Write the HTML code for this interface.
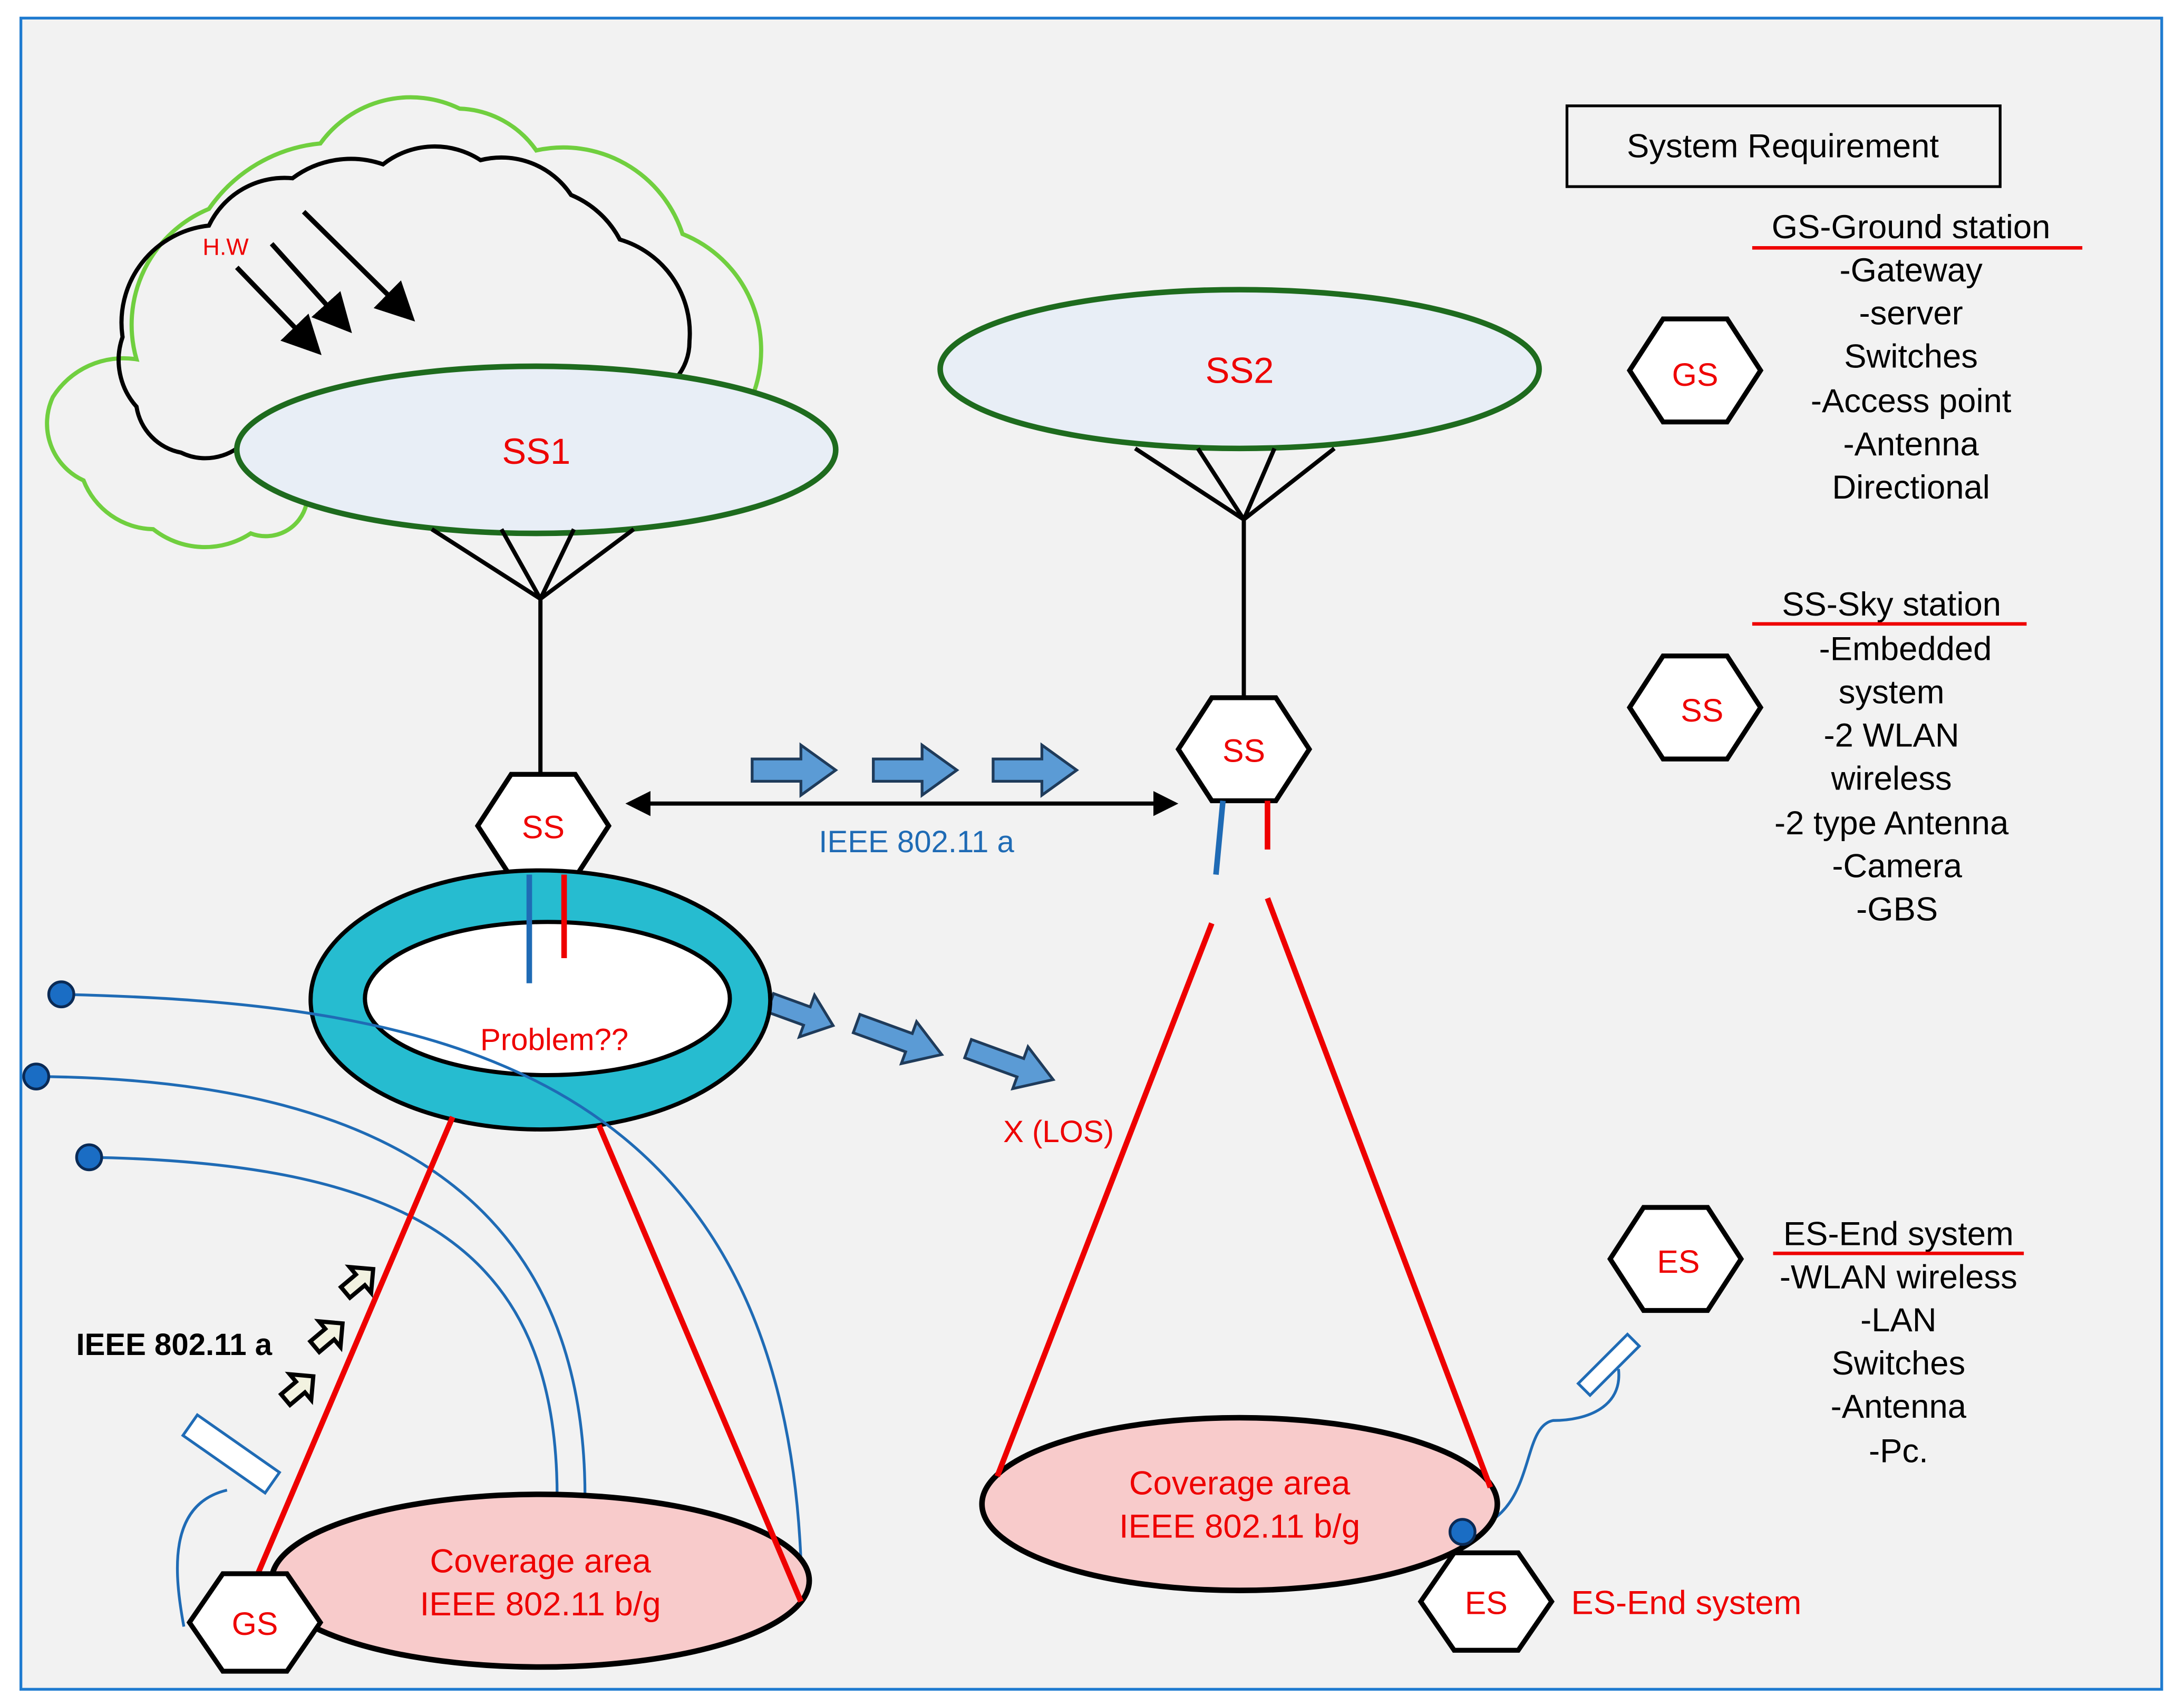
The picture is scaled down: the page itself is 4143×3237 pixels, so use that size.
<!DOCTYPE html>
<html><head><style>html,body{margin:0;padding:0;background:#fff}svg{display:block}</style></head>
<body>
<svg width="4143" height="3237" viewBox="0 0 1568 1225" preserveAspectRatio="none" xmlns="http://www.w3.org/2000/svg" font-family="Liberation Sans, sans-serif">
<rect x="0" y="0" width="1568" height="1225" fill="#fff"/>
<rect x="15" y="13" width="1537" height="1200" fill="#f2f2f2" stroke="#1f7bd0" stroke-width="2"/>

<!-- green cloud -->
<path d="M60,345 A45,45 0 0 1 38,285 A60,60 0 0 1 98,258 A90,90 0 0 1 150,150 A110,110 0 0 1 230,103 A80,80 0 0 1 330,78 A70,70 0 0 1 385,108 A90,90 0 0 1 490,168 A90,90 0 0 1 540,285 L500,330 L220,362 A30,30 0 0 1 180,383 A60,60 0 0 1 110,380 A55,55 0 0 1 60,345 Z" fill="none" stroke="#70cf3f" stroke-width="3"/>
<!-- black cloud -->
<path d="M130,325 A40,40 0 0 1 98,292 A50,50 0 0 1 88,242 A70,70 0 0 1 150,162 A60,60 0 0 1 210,128 A70,70 0 0 1 275,118 A60,60 0 0 1 345,115 A60,60 0 0 1 410,140 A70,70 0 0 1 445,172 A70,70 0 0 1 495,245 A40,40 0 0 1 485,272 L175,318 A40,40 0 0 1 130,325 Z" fill="none" stroke="#000" stroke-width="3"/>
<text x="162" y="183" font-size="17" fill="#e00" text-anchor="middle">H.W</text>
<defs>
<marker id="ah" markerWidth="8" markerHeight="8" refX="6" refY="4" orient="auto" markerUnits="strokeWidth"><path d="M0,0 L8,4 L0,8 Z" fill="#000"/></marker>
<marker id="ah2" markerWidth="6" markerHeight="6" refX="5" refY="3" orient="auto-start-reverse" markerUnits="strokeWidth"><path d="M0,0 L6,3 L0,6 Z" fill="#000"/></marker>
</defs>
<line x1="170" y1="192" x2="226" y2="250" stroke="#000" stroke-width="3.5" marker-end="url(#ah)"/>
<line x1="195" y1="175" x2="248" y2="234" stroke="#000" stroke-width="3.5" marker-end="url(#ah)"/>
<line x1="218" y1="152" x2="293" y2="226" stroke="#000" stroke-width="3.5" marker-end="url(#ah)"/>

<!-- SS1 -->
<ellipse cx="385" cy="323" rx="215" ry="60" fill="#e8eef6" stroke="#1e6b1e" stroke-width="4"/>
<text x="385" y="333" font-size="26" fill="#e00" text-anchor="middle">SS1</text>
<g stroke="#000" stroke-width="3" fill="none">
<path d="M310,380 L388,430 M360,380 L388,430 M412,380 L388,430 M455,380 L388,430 M388,430 L388,557"/>
</g>
<!-- SS2 -->
<ellipse cx="890" cy="265" rx="215" ry="57" fill="#e8eef6" stroke="#1e6b1e" stroke-width="4"/>
<text x="890" y="275" font-size="26" fill="#e00" text-anchor="middle">SS2</text>
<g stroke="#000" stroke-width="3" fill="none">
<path d="M815,322 L893,373 M860,322 L893,373 M915,322 L893,373 M958,322 L893,373 M893,373 L893,503"/>
</g>

<!-- hexagons -->
<g fill="#fff" stroke="#000" stroke-width="3.5">
<polygon points="343,593 367,556 413,556 437,593 413,630 367,630"/>
<polygon points="846,538 870,501 916,501 940,538 916,575 870,575"/>
<polygon points="1170,266 1194,229 1240,229 1264,266 1240,303 1194,303"/>
<polygon points="1170,508 1194,471 1240,471 1264,508 1240,545 1194,545"/>
<polygon points="1156,904 1180,867 1226,867 1250,904 1226,941 1180,941"/>
</g>
<g font-size="23" fill="#e00" text-anchor="middle">
<text x="390" y="602">SS</text>
<text x="893" y="547">SS</text>
<text x="1217" y="277">GS</text>
<text x="1222" y="518">SS</text>
<text x="1205" y="914">ES</text>
</g>

<!-- double arrow -->
<line x1="452" y1="577" x2="843" y2="577" stroke="#000" stroke-width="3" marker-start="url(#ah2)" marker-end="url(#ah2)"/>
<text x="658" y="612" font-size="22" fill="#1f6bb5" text-anchor="middle">IEEE 802.11 a</text>
<g fill="#5b9bd5" stroke="#1f3b5a" stroke-width="2">
<polygon transform="translate(540,553)" points="0,-8 35,-8 35,-18 60,0 35,18 35,8 0,8"/>
<polygon transform="translate(627,553)" points="0,-8 35,-8 35,-18 60,0 35,18 35,8 0,8"/>
<polygon transform="translate(713,553)" points="0,-8 35,-8 35,-18 60,0 35,18 35,8 0,8"/>
<polygon transform="translate(553,720) rotate(20)" points="0,-7 28,-7 28,-16 48,0 28,16 28,7 0,7"/>
<polygon transform="translate(615,735) rotate(20)" points="0,-7 40,-7 40,-16 65,0 40,16 40,7 0,7"/>
<polygon transform="translate(695,753) rotate(20)" points="0,-7 40,-7 40,-16 65,0 40,16 40,7 0,7"/>
</g>

<!-- torus -->
<ellipse cx="388" cy="718" rx="165" ry="93" fill="#26bcd0" stroke="#000" stroke-width="3"/>
<ellipse cx="393" cy="717" rx="131" ry="55" fill="#fff" stroke="#000" stroke-width="3"/>
<text x="398" y="754" font-size="22" fill="#e00" text-anchor="middle">Problem??</text>
<line x1="380" y1="628" x2="380" y2="706" stroke="#1f6bb5" stroke-width="4"/>
<line x1="405" y1="628" x2="405" y2="688" stroke="#e00" stroke-width="4"/>
<text x="760" y="820" font-size="22" fill="#e00" text-anchor="middle">X (LOS)</text>

<!-- blue curves -->
<g fill="none" stroke="#1f6bb5" stroke-width="2">
<path d="M44,714 C300,720 560,760 575,1120"/>
<path d="M26,773 C300,775 420,880 420,1075"/>
<path d="M64,831 C300,835 400,900 400,1075"/>
<path d="M163,1070 C120,1080 125,1130 132,1168"/>
<path d="M1162,983 C1165,1010 1140,1020 1115,1020 C1090,1025 1105,1090 1050,1100"/>
</g>
<g fill="#1a6dc4" stroke="#0a2a55" stroke-width="2">
<circle cx="44" cy="714" r="9"/>
<circle cx="26" cy="773" r="9"/>
<circle cx="64" cy="831" r="9"/>
</g>

<!-- left coverage -->
<ellipse cx="388" cy="1135" rx="193" ry="62" fill="#f8cbcb" stroke="#000" stroke-width="4"/>
<text x="388" y="1129" font-size="24" fill="#e00" text-anchor="middle">Coverage area</text>
<text x="388" y="1160" font-size="24" fill="#e00" text-anchor="middle">IEEE 802.11 b/g</text>
<line x1="325" y1="802" x2="183" y2="1135" stroke="#e00" stroke-width="4"/>
<line x1="430" y1="808" x2="575" y2="1150" stroke="#e00" stroke-width="4"/>
<polygon points="136,1165 160,1130 206,1130 230,1165 206,1200 160,1200" fill="#fff" stroke="#000" stroke-width="3.5"/>
<text x="183" y="1174" font-size="23" fill="#e00" text-anchor="middle">GS</text>
<rect x="130" y="1035" width="72" height="18" fill="#fff" stroke="#1f6bb5" stroke-width="2" transform="rotate(35 166 1044)"/>

<text x="125" y="973" font-size="22" font-weight="bold" fill="#000" text-anchor="middle">IEEE 802.11 a</text>
<g fill="#f2f2e0" stroke="#000" stroke-width="3">
<polygon transform="translate(205,1005) rotate(-40)" points="0,-5 14,-5 14,-12 26,0 14,12 14,5 0,5"/>
<polygon transform="translate(226,967) rotate(-40)" points="0,-5 14,-5 14,-12 26,0 14,12 14,5 0,5"/>
<polygon transform="translate(248,928) rotate(-40)" points="0,-5 14,-5 14,-12 26,0 14,12 14,5 0,5"/>
</g>

<!-- right side -->
<line x1="878" y1="575" x2="873" y2="628" stroke="#1f6bb5" stroke-width="4"/>
<line x1="910" y1="575" x2="910" y2="610" stroke="#e00" stroke-width="4"/>
<ellipse cx="890" cy="1080" rx="185" ry="62" fill="#f8cbcb" stroke="#000" stroke-width="4"/>
<text x="890" y="1073" font-size="24" fill="#e00" text-anchor="middle">Coverage area</text>
<text x="890" y="1104" font-size="24" fill="#e00" text-anchor="middle">IEEE 802.11 b/g</text>
<line x1="870" y1="663" x2="716" y2="1060" stroke="#e00" stroke-width="4"/>
<line x1="910" y1="645" x2="1070" y2="1068" stroke="#e00" stroke-width="4"/>
<rect x="1130" y="974" width="50" height="12" fill="#fff" stroke="#1f6bb5" stroke-width="2" transform="rotate(-45 1155 980)"/>
<polygon points="1020,1150 1044,1115 1090,1115 1114,1150 1090,1185 1044,1185" fill="#fff" stroke="#000" stroke-width="3.5"/>
<text x="1067" y="1159" font-size="23" fill="#e00" text-anchor="middle">ES</text>
<circle cx="1050" cy="1100" r="9" fill="#1a6dc4" stroke="#0a2a55" stroke-width="2"/>
<text x="1128" y="1159" font-size="24" fill="#e00">ES-End system</text>

<!-- legend -->
<rect x="1125" y="76" width="311" height="58" fill="none" stroke="#000" stroke-width="2"/>
<text x="1280" y="113" font-size="24" fill="#000" text-anchor="middle">System Requirement</text>
<g font-size="24" fill="#000" text-anchor="middle">
<text x="1372" y="171">GS-Ground station</text>
<text x="1372" y="202">-Gateway</text>
<text x="1372" y="233">-server</text>
<text x="1372" y="264">Switches</text>
<text x="1372" y="296">-Access point</text>
<text x="1372" y="327">-Antenna</text>
<text x="1372" y="358">Directional</text>
<text x="1358" y="442">SS-Sky station</text>
<text x="1368" y="474">-Embedded</text>
<text x="1358" y="505">system</text>
<text x="1358" y="536">-2 WLAN</text>
<text x="1358" y="567">wireless</text>
<text x="1358" y="599">-2 type Antenna</text>
<text x="1362" y="630">-Camera</text>
<text x="1362" y="661">-GBS</text>
<text x="1363" y="894">ES-End system</text>
<text x="1363" y="925">-WLAN wireless</text>
<text x="1363" y="956">-LAN</text>
<text x="1363" y="987">Switches</text>
<text x="1363" y="1018">-Antenna</text>
<text x="1363" y="1050">-Pc.</text>
</g>
<g stroke="#e00" stroke-width="2.5">
<line x1="1258" y1="178" x2="1495" y2="178"/>
<line x1="1258" y1="448" x2="1455" y2="448"/>
<line x1="1273" y1="900" x2="1453" y2="900"/>
</g>
</svg>
</body></html>
